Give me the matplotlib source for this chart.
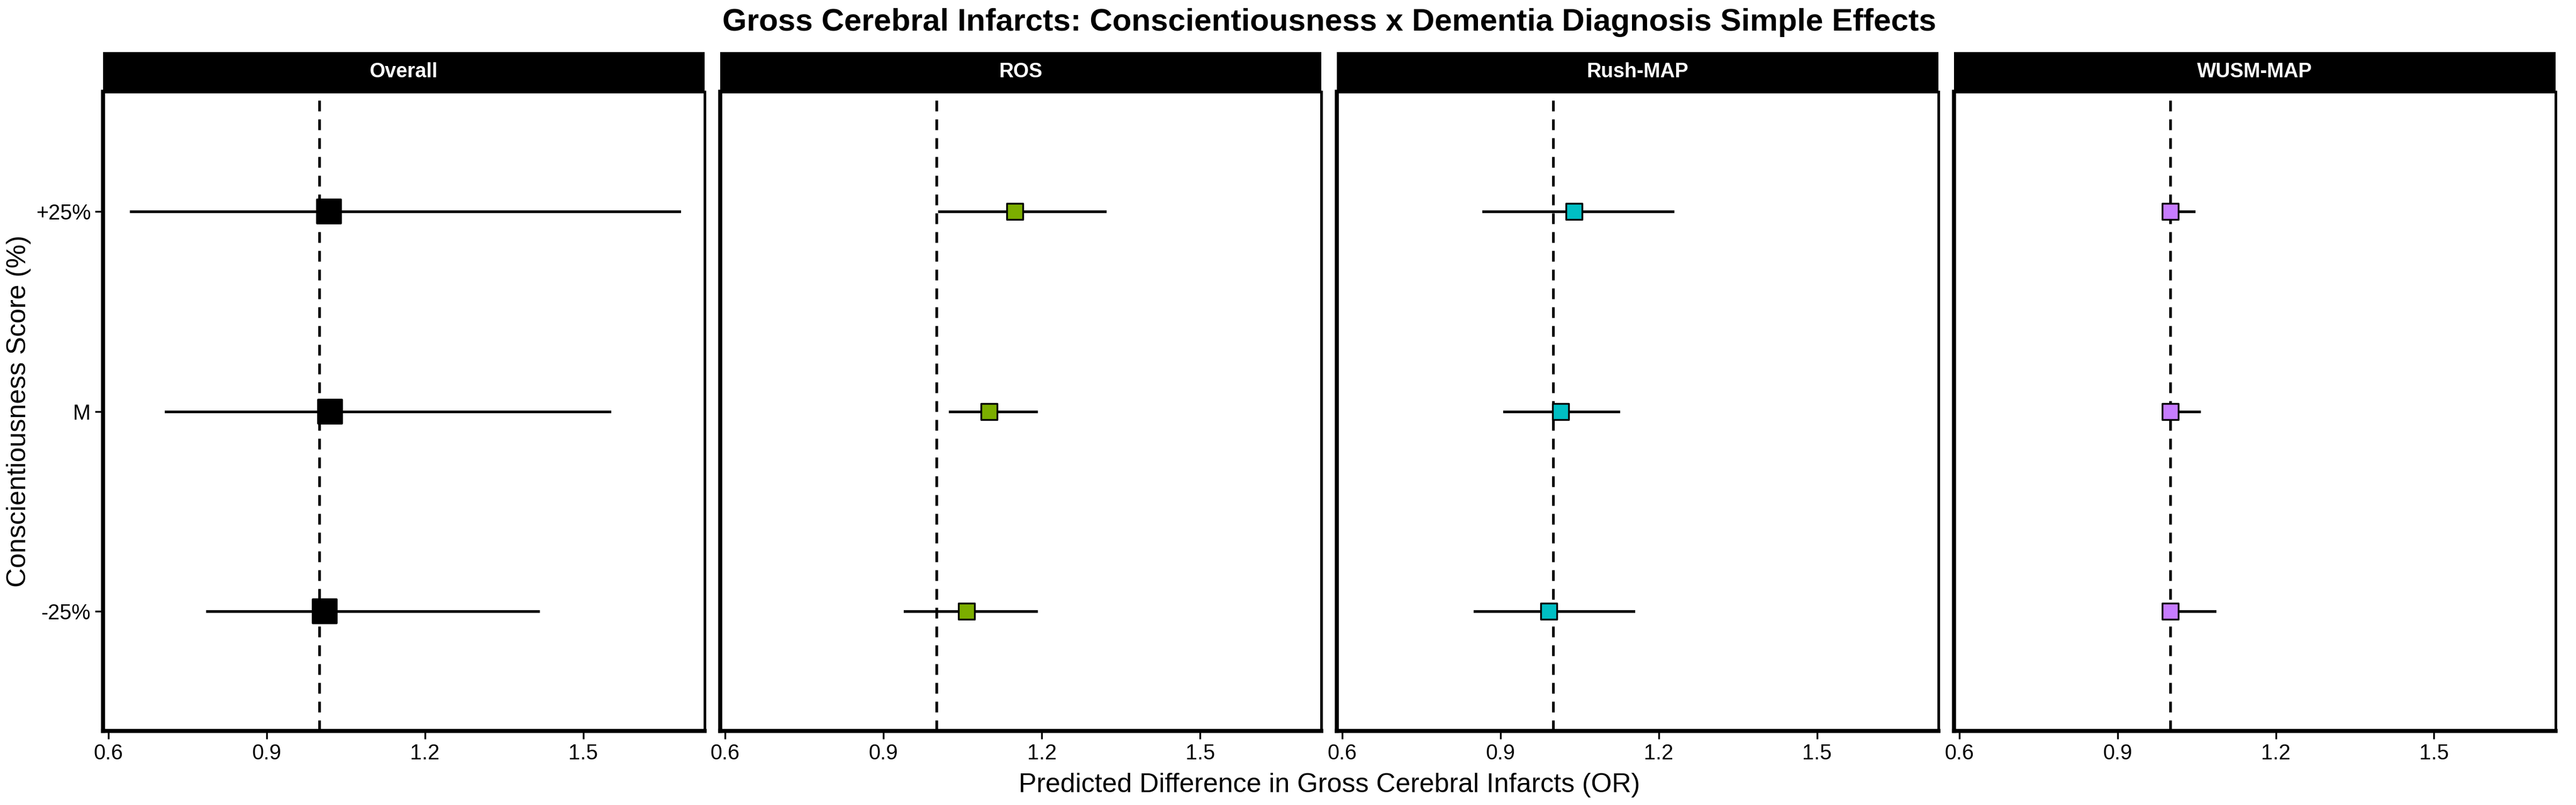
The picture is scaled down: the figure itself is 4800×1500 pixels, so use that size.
import matplotlib.pyplot as plt
from matplotlib.patches import Rectangle

plt.rcParams['font.family'] = ['Liberation Sans', 'DejaVu Sans']

panels = ['Overall', 'ROS', 'Rush-MAP', 'WUSM-MAP']
levels = ['-25%', 'M', '+25%']
colors = ['black', '#7CAE00', '#00BFC4', '#C77CFF']

# order: -25%, M, +25%
est = [[1.01, 1.02, 1.018],
       [1.057, 1.10, 1.149],
       [0.992, 1.014, 1.039],
       [1.0, 1.0, 1.0]]
lo = [[0.787, 0.709, 0.643],
      [0.94, 1.026, 1.005],
      [0.851, 0.907, 0.867],
      [1.0, 1.0, 1.0]]
hi = [[1.415, 1.55, 1.682],
      [1.19, 1.19, 1.32],
      [1.152, 1.124, 1.227],
      [1.085, 1.055, 1.045]]

fig = plt.figure(figsize=(16, 5), dpi=300)
left, right, gap = 0.040, 0.992, 0.006
w = (right - left - 3 * gap) / 4
bottom, top = 0.092, 0.886

for i, name in enumerate(panels):
    ax = fig.add_axes([left + i * (w + gap), bottom, w, top - bottom])
    y = [1, 2, 3]
    for j in range(3):
        ax.plot([lo[i][j], hi[i][j]], [y[j], y[j]], color='black', lw=1.2, zorder=2)
    if i == 0:
        ax.scatter(est[i], y, marker='s', s=110, color='black', zorder=3)
    else:
        ax.scatter(est[i], y, marker='s', s=50, color=colors[i],
                   edgecolors='black', linewidths=0.8, zorder=3)
    ax.axvline(1.0, color='black', ls=(0, (4, 3)), lw=1.2, zorder=1)
    ax.set_xlim(0.59, 1.73)
    ax.set_ylim(0.4, 3.6)
    ax.set_xticks([0.6, 0.9, 1.2, 1.5])
    ax.set_xticklabels(['0.6', '0.9', '1.2', '1.5'])
    ax.set_yticks(y)
    if i == 0:
        ax.set_yticklabels(levels)
        ax.set_ylabel('Conscientiousness Score (%)', fontsize=12, labelpad=2)
    else:
        ax.set_yticklabels([])
        ax.tick_params(axis='y', length=0)
    ax.tick_params(labelsize=9.5, colors='black', pad=2)
    for s in ax.spines.values():
        s.set_linewidth(1.2)
    ax.spines['bottom'].set_linewidth(1.8)
    ax.spines['left'].set_linewidth(1.8)
    # strip
    ax.add_patch(Rectangle((0, 1.0), 1, 0.062, transform=ax.transAxes,
                           facecolor='black', clip_on=False))
    ax.text(0.5, 1.031, name, transform=ax.transAxes, ha='center', va='center',
            color='white', fontsize=9, fontweight='bold')

fig.text(0.516, 0.972, 'Gross Cerebral Infarcts: Conscientiousness x Dementia Diagnosis Simple Effects',
         ha='center', va='center', fontsize=14, fontweight='bold')
fig.text(0.516, 0.025, 'Predicted Difference in Gross Cerebral Infarcts (OR)',
         ha='center', va='center', fontsize=12)

fig.savefig('out.png', dpi=300)
